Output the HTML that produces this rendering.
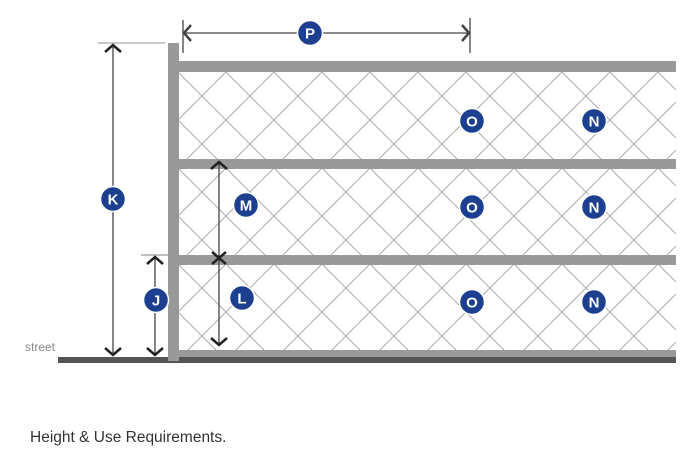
<!DOCTYPE html>
<html><head><style>
html,body{margin:0;padding:0;background:#fff;}
svg{display:block;}
</style></head><body>
<svg width="695" height="453" viewBox="0 0 695 453" xmlns="http://www.w3.org/2000/svg" font-family="'Liberation Sans', sans-serif">
<defs>
<pattern id="mesh" width="48" height="48" patternUnits="userSpaceOnUse" x="10" y="0">
<path d="M0 0 L48 48 M48 0 L0 48 M-24 24 L0 48 M24 -24 L72 24" stroke="#aaa" stroke-width="1" fill="none"/>
</pattern>
</defs>
<rect x="179" y="72" width="497" height="280" fill="url(#mesh)"/>
<rect x="179" y="61" width="497" height="11" fill="#999"/>
<rect x="179" y="159" width="497" height="10" fill="#999"/>
<rect x="179" y="255" width="497" height="10" fill="#999"/>
<rect x="179" y="350" width="497" height="8" fill="#999"/>
<rect x="58" y="357" width="618" height="6" fill="#555"/>
<rect x="168" y="43" width="11" height="318" fill="#999"/>
<g stroke="#444" stroke-width="1.3" fill="none">
<line x1="98" y1="43" x2="165" y2="43" stroke="#aaa"/>
<line x1="113" y1="45" x2="113" y2="355"/>
<line x1="141" y1="255" x2="170" y2="255" stroke="#999"/>
<line x1="155" y1="257" x2="155" y2="355"/>
<line x1="219" y1="162" x2="219" y2="345"/>
<line x1="183" y1="33" x2="470" y2="33"/>
<line x1="183" y1="20" x2="183" y2="53"/>
<line x1="470" y1="18" x2="470" y2="53"/>
</g>
<g stroke="#222" stroke-width="2.5" fill="none">
<polyline points="105,52 113,45 121,52"/>
<polyline points="105,348 113,355 121,348"/>
<polyline points="147,264 155,257 163,264"/>
<polyline points="147,348 155,355 163,348"/>
<polyline points="211,169 219,162 227,169"/>
<polyline points="211,338 219,345 227,338"/>
<path d="M212 252 L226 264 M226 252 L212 264"/>
<polyline points="191,25 184,33 191,41" stroke="#444"/>
<polyline points="462,25 469,33 462,41" stroke="#444"/>
</g>
<g fill="#1c3f8f" stroke="#fff" stroke-width="1.5">
<circle cx="310" cy="33" r="12.5"/>
<circle cx="113" cy="199" r="12.5"/>
<circle cx="246" cy="205" r="12.5"/>
<circle cx="156" cy="300" r="12.5"/>
<circle cx="242" cy="298" r="12.5"/>
<circle cx="472" cy="121" r="12.5"/>
<circle cx="472" cy="207" r="12.5"/>
<circle cx="472" cy="302" r="12.5"/>
<circle cx="594" cy="121" r="12.5"/>
<circle cx="594" cy="207" r="12.5"/>
<circle cx="594" cy="302" r="12.5"/>
</g>
<g fill="#fff" font-weight="bold" font-size="15" text-anchor="middle">
<text x="310" y="38.5">P</text>
<text x="113" y="204.5">K</text>
<text x="246" y="210.5">M</text>
<text x="156" y="305.5">J</text>
<text x="242" y="303.5">L</text>
<text x="472" y="126.5">O</text>
<text x="472" y="212.5">O</text>
<text x="472" y="307.5">O</text>
<text x="594" y="126.5">N</text>
<text x="594" y="212.5">N</text>
<text x="594" y="307.5">N</text>
</g>
<text x="25" y="351" font-size="12" fill="#888">street</text>
<text x="30" y="442" font-size="15.5" fill="#333">Height &amp; Use Requirements.</text>
</svg>
</body></html>
